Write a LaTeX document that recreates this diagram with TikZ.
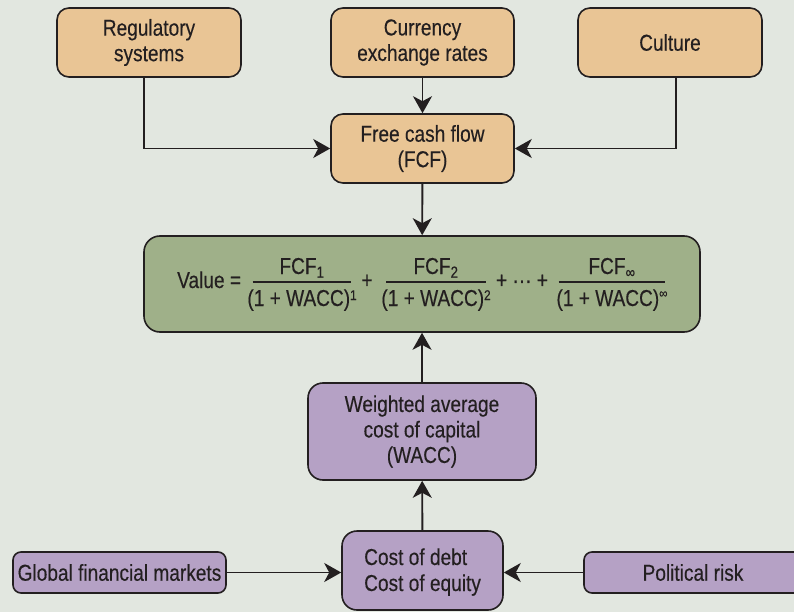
\documentclass[tikz,border=0pt]{standalone}
\usepackage{fontspec}
\setmainfont{Liberation Sans}[FakeStretch=0.83, FakeBold=0.3]
\usetikzlibrary{arrows.meta}

\definecolor{bgcol}{HTML}{E2E7E0}
\definecolor{cashcol}{HTML}{E9C595}
\definecolor{valcol}{HTML}{9FB089}
\definecolor{capcol}{HTML}{B5A1C5}
\definecolor{inkcol}{HTML}{231F20}

% small raised exponent in the denominators
\newcommand\expo[2]{\raisebox{#1}{\fontsize{14}{14}\selectfont #2}}

\tikzset{
  box/.style={draw=inkcol, line width=1.6pt, rounded corners=12pt,
    text=inkcol, align=center, inner sep=0pt,
    font=\fontsize{23}{25.5}\selectfont},
  cashbox/.style={box, fill=cashcol, minimum width=184pt, minimum height=69pt},
  capbox/.style={box, fill=capcol},
  arr/.style={draw=inkcol, line width=1.9pt,
    -{Stealth[length=17pt, width=19pt, inset=5pt]}},
  formula/.style={text=inkcol, inner sep=0pt, font=\fontsize{23}{25.5}\selectfont},
  fracrule/.style={draw=inkcol, line width=1.6pt}
}

\begin{document}
\begin{tikzpicture}[x=1pt, y=-1pt]
  \fill[bgcol] (0,0) rectangle (794,612);
  \clip (0,0) rectangle (794,612);

  % cash-flow drivers
  \node[cashbox] (reg) at (149,42.5) {Regulatory\\systems};
  \node[cashbox, minimum width=183pt] (cur) at (422.5,42.5) {Currency\\exchange rates};
  \node[cashbox] (cul) at (670,42.5) {Culture};
  \node[cashbox, minimum width=183pt] (fcf) at (422.5,148.5) {Free cash flow\\(FCF)};

  % valuation
  \node[box, fill=valcol, rounded corners=16pt, minimum width=556pt,
        minimum height=96pt] (val) at (422,284) {};

  % cost-of-capital side
  \node[capbox, rounded corners=15pt, minimum width=228pt, minimum height=97pt]
        (wacc) at (422,431.5) {Weighted average\\cost of capital\\(WACC)};
  \node[capbox, rounded corners=15pt, minimum width=161pt, minimum height=79pt]
        (cost) at (422.5,570.5) {};
  \node[formula, anchor=base west] (debt) at (364,565) {Cost of debt};
  \node[formula, anchor=base west] (equity) at (364,591) {Cost of equity};
  \node[capbox, rounded corners=8pt, minimum width=213pt, minimum height=41pt]
        (glob) at (119.5,572.5) {Global financial markets};
  \node[capbox, rounded corners=8pt, minimum width=218pt, minimum height=41pt]
        (pol) at (693,572.5) {Political risk};

  % valuation formula
  \node[formula, anchor=base west] (lhs) at (177,288) {Value =};
  \node[formula, anchor=base] (n1) at (302,274) {FCF\textsubscript{1}};
  \node[formula, anchor=base] (d1) at (302,306) {(1 + WACC)\expo{6pt}{1}};
  \draw[fracrule] (252.5,282) -- (351,282);
  \node[formula, anchor=base] (p1) at (367,288) {+};
  \node[formula, anchor=base] (n2) at (436,274) {FCF\textsubscript{2}};
  \node[formula, anchor=base] (d2) at (436,306) {(1 + WACC)\expo{6pt}{2}};
  \draw[fracrule] (386,282) -- (486,282);
  \node[formula, anchor=base] (p2) at (522,288) {+ ··· +};
  \node[formula, anchor=base] (n3) at (612,274) {FCF\textsubscript{∞}};
  \node[formula, anchor=base] (d3) at (612,306) {(1 + WACC)\expo{8pt}{∞}};
  \draw[fracrule] (558.5,282) -- (665,282);

  % connectors
  \draw[arr] ([xshift=-5pt]reg.south) |- (fcf.west);
  \draw[arr] (cur) -- (fcf);
  \draw[arr] ([xshift=6pt]cul.south) |- (fcf.east);
  \draw[arr] (fcf) -- (val);
  \draw[arr] (wacc) -- (val);
  \draw[arr] (cost) -- (wacc);
  \draw[arr] (glob.east) -- (glob.east -| cost.west);
  \draw[arr] (pol.west) -- (pol.west -| cost.east);
\end{tikzpicture}
\end{document}
